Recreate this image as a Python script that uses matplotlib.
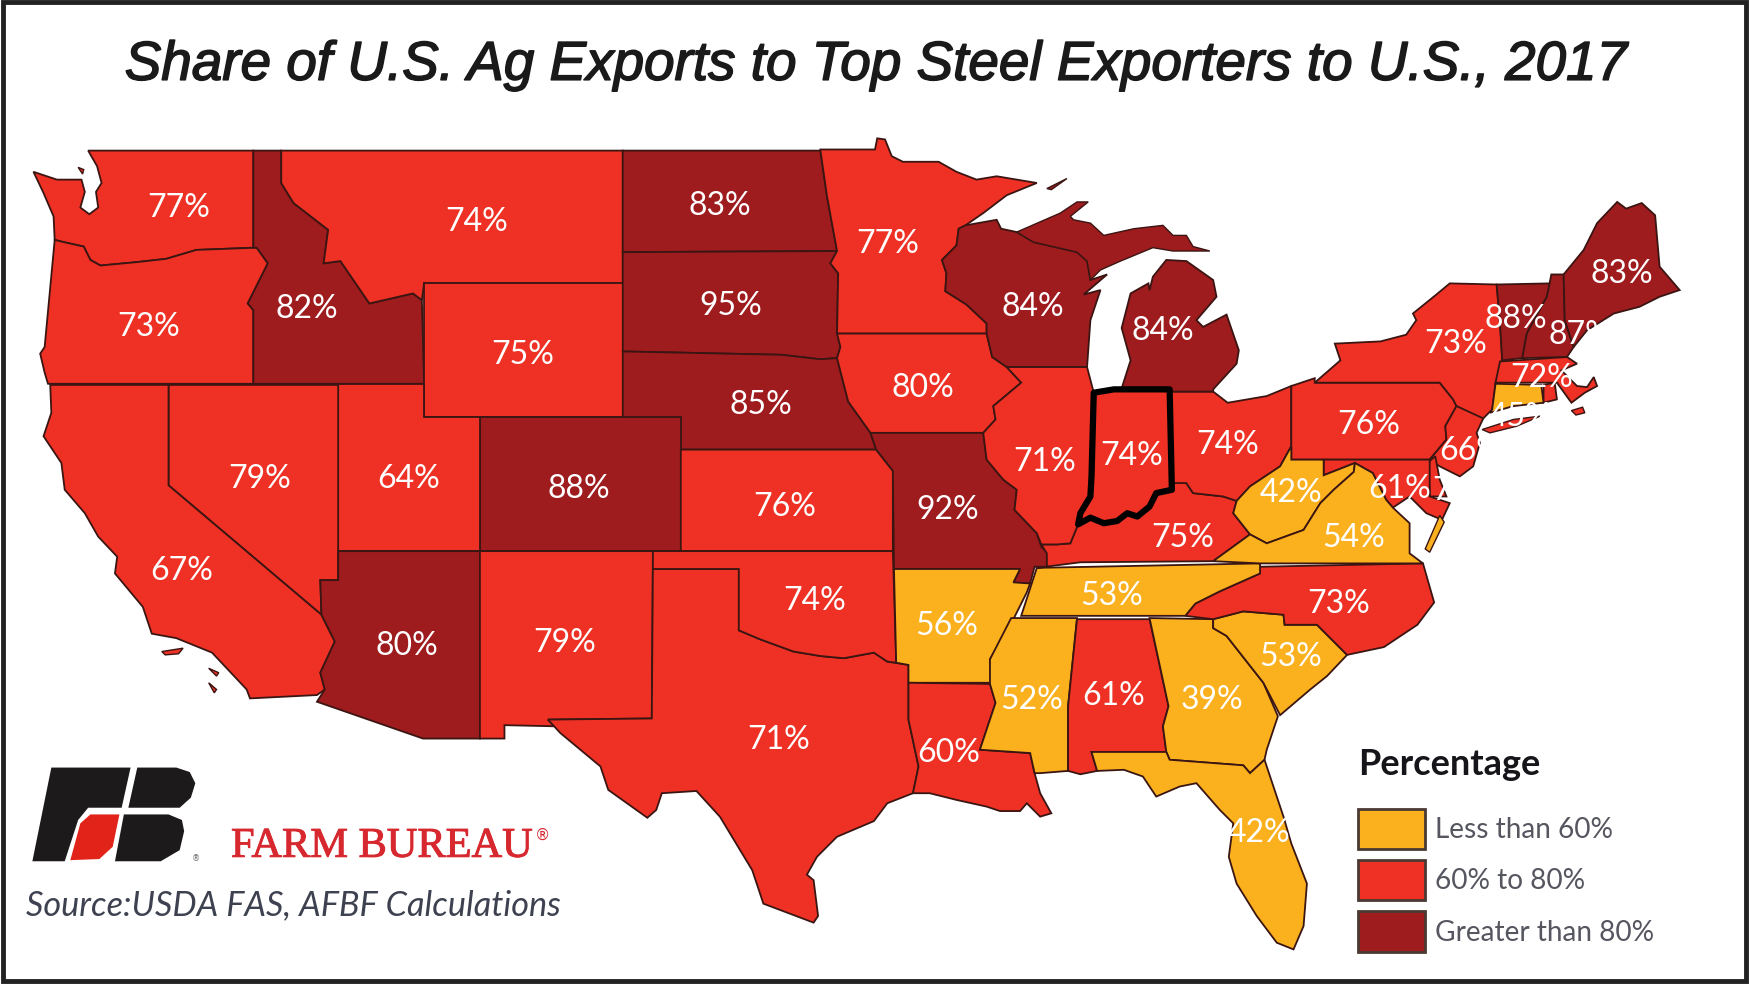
# Share of U.S. ag exports to top steel exporters, 2017 - state choropleth
import matplotlib
matplotlib.use("Agg")
import matplotlib.pyplot as plt
import matplotlib.patheffects as pe
from matplotlib.patches import Polygon, Rectangle

# =============================================================================
# DATA
# =============================================================================
STATES = ["WA", "OR", "ID", "MT", "WY", "ND", "SD", "NE", "CO", "KS", "UT", "NV", "CA", "AZ", "NM",
          "TX", "OK", "MN", "IA", "MO", "AR", "LA", "MS", "AL", "GA", "SC", "NC", "TN", "FL", "KY",
          "WI", "IL", "IN", "OH", "MI", "PA", "NY", "VT", "NH", "ME", "MA", "RI", "CT", "NJ", "DE",
          "MD", "WV", "VA"]
VALUES = [77, 73, 82, 74, 75, 83, 95, 85, 88, 76, 64, 79, 67, 80, 79,
          71, 74, 77, 80, 92, 56, 60, 52, 61, 39, 53, 73, 53, 42, 75,
          84, 71, 74, 74, 84, 76, 73, 88, 87, 83, 72, None, 45, 66, 74,
          61, 42, 54]
# 0 = less than 60, 1 = 60 to 80, 2 = greater than 80 (as coloured in the source map)
CLASSES = [1, 1, 2, 1, 1, 2, 2, 2, 2, 1, 1, 1, 1, 2, 1,
           1, 1, 1, 1, 2, 0, 1, 0, 1, 0, 0, 1, 0, 0, 1,
           2, 1, 1, 1, 2, 1, 1, 2, 2, 2, 1, 1, 0, 1, 1,
           1, 0, 0]

LEGEND_LABELS = ["Less than 60%", "60% to 80%", "Greater than 80%"]
COLORS = ["#FBB01D", "#EE3124", "#9E1B1E"]

# outlines, in picture pixels
OUTLINES = {
    "WA": [(30,154),(51,161),(73,161),(76,172),(72,186),(80,192),(88,186),(86,172),(91,164),(87,149),(79,135),(227,135),(227,222),(176,224),(149,232),(122,235),(90,238),(81,233),(75,221),(57,217),(49,215),(48,194),(39,173)],
    "OR": [(49,215),(57,217),(75,221),(81,233),(90,238),(122,235),(149,232),(176,224),(230,222),(240,236),(222,272),(227,278),(227,344),(43,344),(40,334),(36,317),(40,311)],
    "ID": [(227,135),(252,135),(252,164),(263,182),(294,206),(290,236),(305,234),(331,272),(370,263),(378,269),(380,344),(227,344),(227,278),(222,272),(240,236),(230,222),(227,222)],
    "MT": [(252,135),(558,135),(558,254),(380,254),(378,269),(370,263),(331,272),(305,234),(290,236),(294,206),(263,182),(252,164)],
    "WY": [(380,254),(558,254),(558,374),(380,374)],
    "ND": [(558,135),(735,135),(741,176),(750,225),(558,226)],
    "SD": [(558,226),(750,225),(744,236),(751,245),(750,299),(753,311),(750,321),(735,322),(700,318),(558,315)],
    "NE": [(558,315),(700,318),(735,322),(750,321),(760,360),(780,388),(785,403),(610,403),(610,374),(558,374)],
    "CO": [(430,374),(610,374),(610,494),(430,494)],
    "KS": [(610,403),(785,403),(800,422),(800,494),(610,494)],
    "UT": [(303,344),(380,344),(380,374),(430,374),(430,494),(303,494)],
    "NV": [(151,345),(303,345),(303,520),(287,520),(288,551),(151,435)],
    "CA": [(45,345),(151,345),(151,435),(288,551),(300,575),(287,603),(291,618),(284,623),(224,626),(221,618),(190,585),(158,572),(136,568),(128,544),(103,514),(105,499),(88,481),(76,460),(58,439),(55,415),(39,391),(46,370)],
    "AZ": [(303,494),(430,494),(430,662),(379,662),(284,629),(291,618),(287,603),(300,575),(288,551),(287,520),(303,520)],
    "NM": [(430,494),(585,494),(584,644),(491,645),(497,651),(452,650),(452,662),(430,662)],
    "TX": [(585,510),(662,510),(662,565),(681,573),(711,584),(735,588),(756,590),(783,585),(795,593),(814,596),(814,645),(823,687),(818,711),(795,720),(783,736),(750,750),(732,768),(723,784),(729,789),(733,821),(729,827),(684,810),(674,780),(645,732),(624,709),(593,711),(588,726),(580,733),(545,708),(538,687),(502,657),(491,645),(584,644)],
    "OK": [(585,494),(800,494),(803,594),(795,593),(783,585),(756,590),(735,588),(711,584),(681,573),(662,565),(662,510),(585,510)],
    "MN": [(735,134),(784,134),(786,124),(793,125),(799,140),(809,145),(841,145),(857,154),(875,161),(893,158),(929,164),(902,175),(881,191),(865,202),(859,205),(857,220),(844,233),(848,245),(847,261),(866,273),(884,290),(884,299),(750,299),(751,245),(744,236),(750,225),(741,176)],
    "IA": [(750,299),(884,299),(889,320),(902,329),(915,343),(890,364),(892,376),(881,388),(780,388),(760,360),(750,321),(753,311)],
    "MO": [(780,388),(881,388),(884,412),(899,430),(911,439),(909,457),(929,478),(933,490),(939,496),(938,508),(927,508),(923,523),(908,522),(914,510),(801,510),(800,422),(785,403)],
    "AR": [(801,510),(914,510),(908,522),(923,523),(920,531),(908,555),(887,591),(890,612),(814,612),(814,596),(803,594)],
    "LA": [(814,612),(887,613),(892,630),(878,672),(923,675),(927,693),(932,711),(942,729),(932,732),(920,720),(914,727),(896,727),(884,723),(857,717),(833,711),(818,711),(823,687),(814,645)],
    "MS": [(906,554),(965,554),(957,633),(957,691),(932,693),(927,693),(923,675),(878,672),(892,630),(887,613),(887,591)],
    "AL": [(965,555),(1030,555),(1047,633),(1042,651),(1045,674),(978,674),(983,691),(968,694),(957,691),(957,633)],
    "GA": [(1030,554),(1087,555),(1087,563),(1099,570),(1132,612),(1145,642),(1135,672),(1133,681),(1120,693),(1114,686),(1048,681),(1045,674),(1042,651),(1047,633)],
    "SC": [(1087,563),(1087,555),(1114,548),(1150,551),(1151,560),(1180,560),(1207,587),(1189,606),(1174,618),(1147,641),(1132,612),(1099,570)],
    "NC": [(1062,552),(1071,541),(1093,530),(1129,514),(1129,508),(1275,505),(1285,540),(1270,560),(1240,580),(1207,587),(1180,560),(1151,560),(1150,551),(1114,548),(1087,555)],
    "TN": [(929,509),(1129,505),(1129,514),(1093,530),(1071,541),(1062,552),(915,552)],
    "FL": [(978,674),(1045,674),(1048,681),(1114,686),(1120,693),(1133,681),(1150,732),(1157,756),(1171,792),(1168,830),(1159,851),(1144,845),(1126,821),(1108,792),(1101,768),(1105,738),(1093,726),(1072,702),(1057,705),(1036,714),(1024,696),(1007,690),(983,691)],
    "KY": [(938,496),(933,488),(947,488),(959,487),(966,470),(977,464),(989,469),(1001,467),(1010,460),(1019,463),(1030,454),(1036,442),(1050,439),(1051,433),(1063,433),(1069,442),(1096,445),(1108,449),(1105,460),(1120,479),(1087,503),(968,504),(929,509),(938,508)],
    "WI": [(865,202),(893,197),(897,205),(911,208),(926,217),(965,226),(974,234),(977,251),(992,246),(971,264),(986,260),(977,287),(974,329),(902,329),(889,320),(884,299),(884,290),(866,273),(847,261),(848,245),(844,233),(857,220),(859,205)],
    "IL": [(902,329),(974,329),(980,352),(978,427),(977,445),(968,460),(966,470),(959,487),(947,488),(933,488),(929,478),(909,457),(911,439),(899,430),(884,412),(881,388),(892,376),(890,364),(915,343)],
    "IN": [(980,352),(998,349),(1048,349),(1050,439),(1036,442),(1030,454),(1019,463),(1010,460),(1001,467),(989,469),(977,464),(966,470),(968,460),(977,445),(978,427)],
    "OH": [(1048,351),(1087,351),(1100,361),(1135,355),(1157,346),(1157,400),(1147,418),(1120,436),(1108,449),(1096,445),(1069,442),(1063,433),(1051,433),(1050,439)],
    "MI": [(1005,348),(1013,323),(1005,294),(1013,263),(1029,254),(1030,260),(1033,248),(1045,233),(1063,234),(1087,251),(1090,266),(1072,287),(1078,293),(1099,282),(1110,314),(1108,326),(1087,349),(1087,351),(1048,351)],
    "PA": [(1157,346),(1178,339),(1178,343),(1290,343),(1302,358),(1305,364),(1295,382),(1296,394),(1281,412),(1157,412)],
    "NY": [(1299,254),(1341,255),(1344,290),(1346,323),(1340,343),(1337,367),(1328,376),(1305,364),(1302,358),(1290,343),(1178,343),(1201,323),(1196,308),(1237,306),(1260,300),(1269,287),(1266,281),(1287,264)],
    "VT": [(1341,255),(1389,254),(1386,266),(1368,299),(1364,321),(1346,323),(1344,290)],
    "NH": [(1390,246),(1401,246),(1402,287),(1410,311),(1404,320),(1364,321),(1368,299),(1386,266)],
    "ME": [(1401,246),(1419,224),(1431,200),(1449,181),(1457,187),(1471,182),(1483,193),(1487,239),(1505,260),(1487,266),(1469,275),(1446,281),(1422,296),(1410,311),(1402,287)],
    "MA": [(1344,324),(1404,320),(1413,326),(1399,332),(1413,346),(1422,347),(1428,338),(1431,346),(1420,352),(1408,361),(1395,343),(1340,343)],
    "RI": [(1383,345),(1393,343),(1395,358),(1383,361)],
    "CT": [(1340,344),(1381,345),(1383,361),(1356,364),(1335,370),(1337,367)],
    "NJ": [(1305,364),(1329,375),(1323,388),(1326,397),(1320,418),(1308,427),(1290,418),(1281,412),(1296,394),(1295,382)],
    "DE": [(1280,414),(1286,409),(1290,430),(1296,445),(1281,445)],
    "MD": [(1186,412),(1281,412),(1281,445),(1299,451),(1292,466),(1278,460),(1263,445),(1248,455),(1242,448),(1230,424),(1214,415),(1186,426)],
    "WV": [(1157,400),(1157,412),(1186,412),(1186,426),(1214,415),(1213,423),(1195,439),(1183,451),(1168,475),(1135,487),(1120,479),(1105,460),(1108,449),(1120,436),(1147,418)],
    "VA": [(1087,503),(1120,479),(1135,487),(1168,475),(1183,451),(1195,439),(1213,423),(1214,415),(1230,424),(1242,448),(1248,455),(1263,469),(1263,496),(1275,505),(1129,505)],
}
# small pieces that belong to a state but are drawn apart
EXTRA_PIECES = {
    "NY": [[(1328,385),(1356,376),(1380,373),(1359,382),(1335,388)]],
    "MI": [[(911,208),(950,191),(965,181),(975,181),(959,194),(962,197),(977,200),(989,211),(1016,205),(1042,202),(1051,211),(1063,211),(1069,221),(1084,225),(1051,225),(1033,222),(1004,234),(986,242),(977,251),(974,234),(965,226),(926,217)],
           [(938,169),(956,160),(942,170)]],
    "VA": [[(1277,492),(1290,462),(1294,468),(1281,495)]],
    "MA": [[(1408,368),(1418,365),(1420,370),(1412,372)]],
    "CA": [[(145,584),(164,581),(160,586),(148,587)], [(187,599),(196,603),(194,606)], [(187,612),(194,618),(192,621)]],
    "WA": [[(70,150),(75,152),(74,156)]],
}

# label anchor of each state, in picture pixels
LABEL_X = [160, 133, 275, 427, 468, 645, 655, 682, 519, 703, 366, 233, 163, 365, 506,
           698, 730, 795, 827, 849, 848, 850, 924, 998, 1086, 1156, 1199, 996, 1128, 1060,
           925, 936, 1014, 1100, 1042, 1226, 1304, 1358, 1416, 1453, 1381, 1400, 1362, 1318, 1311,
           1254, 1157, 1213]
LABEL_Y = [184, 291, 275, 197, 316, 183, 272, 361, 436, 452, 427, 427, 510, 577, 574,
           661, 537, 217, 346, 455, 559, 673, 625, 622, 625, 587, 539, 532, 745, 480,
           273, 412, 407, 397, 295, 379, 306, 284, 298, 244, 337, 340, 372, 402, 438,
           436, 440, 480]

LOGO_BLACK = [
    [(46,688),(117,688),(109,724),(79,724),(70,735),(58,772),(29,772)],
    [(123,688),(158,688),(170,692),(175,702),(171,715),(161,724),(115,724)],
    [(111,730),(151,730),(163,735),(165,745),(161,762),(144,772),(103,772)],
]
LOGO_RED = [(81,730),(107,730),(101,759),(89,770),(63,771),(72,738)]

# =============================================================================
# PLOT
# =============================================================================
fig = plt.figure(figsize=(17.5, 9.84), dpi=100, facecolor="white")
ax = fig.add_axes([0, 0, 1, 1])
ax.set_xlim(0, 1568)
ax.set_ylim(882, 0)
ax.axis("off")

ax.add_patch(Rectangle((3, 2), 1561, 877, fill=False, ec="#222222", lw=3.5))

ax.text(785, 59, "Share of U.S. Ag Exports to Top Steel Exporters to U.S., 2017",
        ha="center", va="center", fontsize=39.5, style="italic", color="#1a1a1a",
        family="Liberation Sans",
        path_effects=[pe.withStroke(linewidth=1.1, foreground="#1a1a1a")])

EDGE = "#3A1512"
for st, cl in zip(STATES, CLASSES):
    ax.add_patch(Polygon(OUTLINES[st], closed=True, fc=COLORS[cl], ec=EDGE, lw=1.3, zorder=2))
    for piece in EXTRA_PIECES.get(st, []):
        ax.add_patch(Polygon(piece, closed=True, fc=COLORS[cl], ec=EDGE, lw=1.0, zorder=2))

# Indiana highlighted
ax.add_patch(Polygon(OUTLINES["IN"], closed=True, fill=False, ec="black", lw=4.5,
                     joinstyle="round", zorder=3))

for val, x, y in zip(VALUES, LABEL_X, LABEL_Y):
    if val is None:
        continue
    ax.text(x, y + 2, f"{val}%", ha="center", va="center", color="white", fontsize=23,
            family="Lato", zorder=4)

# logo
for piece in LOGO_BLACK:
    ax.add_patch(Polygon(piece, closed=True, fc="#1C1A1B", ec="none"))
ax.add_patch(Polygon(LOGO_RED, closed=True, fc="#E2231A", ec="none"))
ax.text(172, 770, "®", ha="left", va="center", fontsize=6, color="#666666")
ax.text(207, 768, "FARM BUREAU", ha="left", va="baseline", fontsize=30.5, color="#D7282F",
        family="Liberation Serif", path_effects=[pe.withStroke(linewidth=0.7, foreground="#D7282F")])
ax.text(479, 749, "®", ha="left", va="center", fontsize=11, color="#D7282F")
ax.text(23, 820, "Source:USDA FAS, AFBF Calculations", ha="left", va="baseline",
        fontsize=24.7, style="italic", color="#3E4250", family="Lato")

# legend
ax.text(1217, 685, "Percentage", ha="left", va="center", fontsize=26, fontweight="bold",
        color="#15151A", family="Lato")
for i, (lab, col, top) in enumerate(zip(LEGEND_LABELS, COLORS, [725, 771, 817])):
    ax.add_patch(Rectangle((1217, top), 60, 36, fc=col, ec="#4A3A33", lw=2))
    ax.text(1286, top + 19, lab, ha="left", va="center", fontsize=20.2, color="#55565F", family="Lato")

fig.savefig("out.png", dpi=100)
